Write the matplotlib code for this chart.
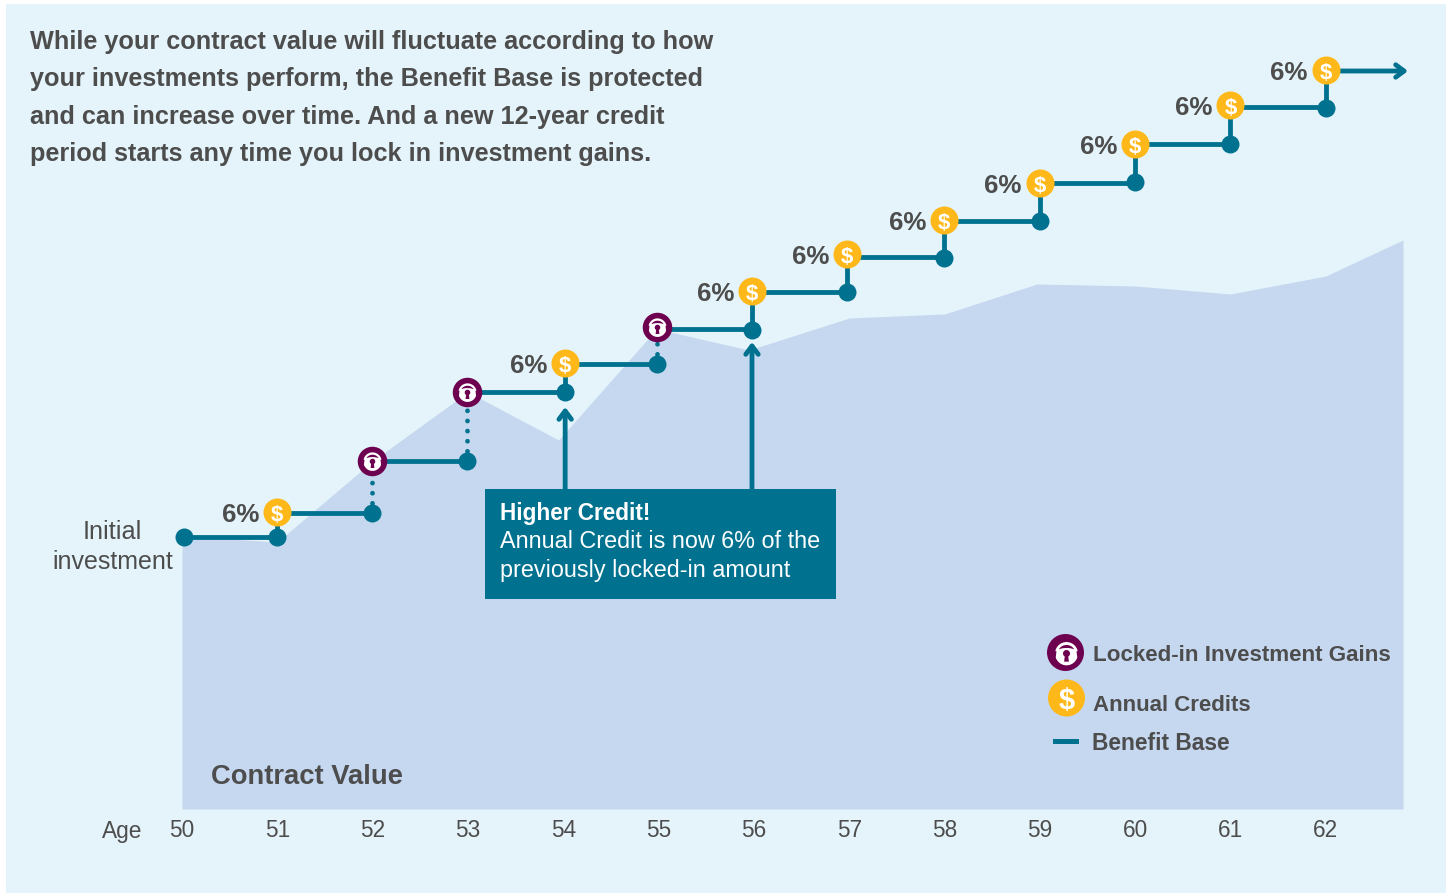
import numpy as np
import matplotlib
matplotlib.use("Agg")
import matplotlib.pyplot as plt
from matplotlib.patches import Rectangle, Circle
from matplotlib.path import Path
from matplotlib.transforms import Affine2D

W, H = 1449, 895
plt.rcParams['font.family'] = ['Liberation Sans', 'DejaVu Sans']

# ---- data (value units are arbitrary, 0 = chart floor)
tick_ages = list(range(50, 63))
contract_age = [50.0, 51.0, 52.0, 53.0, 53.95, 54.98, 55.95, 57.0, 58.0, 58.97, 60.0, 61.0, 62.0, 62.81]
contract_val = [273, 267, 348, 417, 369, 480, 459, 491, 495, 525, 523, 515, 533, 569]

dot_age = [50.02, 51.0, 51.995, 52.985, 54.02, 54.985, 55.98, 56.98, 57.995, 59.0, 60.0, 61.0, 62.0]
dot_val = [272, 272, 296, 348, 417, 445, 479, 517, 551, 588, 627, 665, 701]
credit_age = [51.0, 54.02, 55.98, 56.98, 57.995, 59.0, 60.0, 61.0, 62.0]
credit_val = [297, 446, 518, 555, 589, 626, 665, 704, 739]
lock_age = [51.995, 52.985, 54.985]
lock_val = [348, 417, 482]
run_val = [272, 296, 348, 417, 445, 480, 517, 552, 588, 626, 665, 702]
pct_label = "6%"

title_lines = ["While your contract value will fluctuate according to how",
               "your investments perform, the Benefit Base is protected",
               "and can increase over time. And a new 12-year credit",
               "period starts any time you lock in investment gains."]

TEAL = '#00718F'; PURPLE = '#6E0050'; GOLD = '#FFB819'; TXT = '#4D4D4D'
PANEL = '#E4F4FA'; AREA = '#C6D8F0'


def lock_path():
    """White padlock glyph for a purple disc of radius 1, with a keyhole."""
    t = np.linspace(np.radians(12), np.radians(168), 24)
    arch = np.c_[np.r_[0.62*np.cos(t), 0.46*np.cos(t[::-1])],
                 np.r_[0.62*np.sin(t), 0.42*np.sin(t[::-1])+0.04]]
    b = np.linspace(np.radians(200), np.radians(340), 24)
    tb = np.linspace(np.radians(15), np.radians(165), 16)
    body = np.r_[np.c_[0.56*np.cos(tb), 0.24*np.sin(tb)+0.06], np.c_[0.62*np.cos(b), 0.64*np.sin(b)]]
    a = np.linspace(np.radians(-60), np.radians(240), 18)
    key = np.r_[np.c_[0.19*np.cos(a), 0.19*np.sin(a)+0.0],
                [[-0.13, -0.44], [0.13, -0.44]]]
    # keyhole must wind opposite to the body
    key = key[::-1]
    verts, codes = [], []
    for poly in (arch, body, key):
        verts += list(poly) + [poly[0]]
        codes += [Path.MOVETO] + [Path.LINETO]*(len(poly)-1) + [Path.CLOSEPOLY]
    return Path(np.array(verts), codes)


LOCK = lock_path()
LOCK_MAX = np.abs(LOCK.vertices).max()
PT = 72 / 100  # points per pixel at dpi=100

fig = plt.figure(figsize=(W/100, H/100), dpi=100, facecolor='white')
px = Affine2D().scale(1, -1).translate(0, H)  # reference pixel coordinates
fig.add_artist(Rectangle((6, 5), 1440, 889, transform=px, fc=PANEL, ec='none', zorder=-5))

ax = fig.add_axes([182/W, 1-810/H, (1403-182)/W, (810-6)/H])
ax.patch.set_visible(False)
ax.set_xlim(50, 62.81)
ax.set_ylim(0, 804)
for s in ax.spines.values():
    s.set_visible(False)
ax.set_yticks([])
ax.set_xticks(tick_ages)
ax.set_xticklabels([str(a) for a in tick_ages], color=TXT, fontsize=16.3)
ax.tick_params(axis='x', length=0, pad=6.8)

ax.fill_between(contract_age, contract_val, 0, color=AREA, lw=0, zorder=1)

LW = 4.8*PT
ARROW = dict(arrowstyle='->,head_length=0.6,head_width=0.45', color=TEAL, lw=LW, shrinkA=0, shrinkB=0)
# horizontal runs of the benefit base
for a0, a1, v0 in zip(dot_age[:-1], dot_age[1:], run_val):
    ax.plot([a0, a1], [v0, v0], color=TEAL, lw=LW, zorder=2, solid_capstyle='butt')
# vertical credit stems
for a, v in zip(credit_age, credit_val):
    d = dot_val[dot_age.index(a)]
    ax.plot([a, a], [d, v], color=TEAL, lw=LW, zorder=2, solid_capstyle='butt')
# dotted lock-in jumps
for a, v in zip(lock_age, lock_val):
    d = dot_val[dot_age.index(a)]
    ax.plot([a, a], [d, v], color=TEAL, lw=LW, zorder=2,
            linestyle=(0, (0.01, 2.1)), dash_capstyle='round')

ax.annotate('', xy=(1408, 72), xycoords=px, xytext=(62, credit_val[-1]-1), textcoords='data',
            arrowprops=ARROW, zorder=2)

ax.plot(dot_age, dot_val, 'o', ms=18*PT, mfc=TEAL, mec='none', zorder=3, clip_on=False)
ax.plot(credit_age, credit_val, 'o', ms=28*PT, mfc=GOLD, mec='none', zorder=4, clip_on=False)
ax.plot(lock_age, lock_val, 'o', ms=29.5*PT, mfc=PURPLE, mec='none', zorder=4, clip_on=False)
ax.plot(lock_age, lock_val, linestyle='none', marker=LOCK, ms=2*14.75*LOCK_MAX*PT, mfc='white',
        mec='none', zorder=5, clip_on=False)

for a, v in zip(credit_age, credit_val):
    ax.text(a, v, '$', color='white', fontsize=16, fontweight='bold', ha='center',
            va='center_baseline', zorder=6, clip_on=False)
    ax.annotate(pct_label, (a, v), xytext=(-18*PT, 0), textcoords='offset points',
                color=TXT, fontsize=18.6, fontweight='bold', ha='right', va='center_baseline', zorder=6)

# callout arrows
for a, top in ((54.02, 408), (55.98, 343)):
    ax.annotate('', xy=(a, 810-top), xycoords='data', xytext=(a, 810-490), textcoords='data',
                arrowprops=ARROW, zorder=3)


def T(x, y, s, **kw):
    kw.setdefault('color', TXT)
    kw.setdefault('va', 'center_baseline')
    fig.text(x, y, s, transform=px, zorder=10, **kw)


for y, line in zip((40, 77, 115, 152), title_lines):
    T(30, y, line, fontsize=18.17, fontweight='bold')

fig.add_artist(Rectangle((485, 490), 351, 109.5, transform=px, fc=TEAL, ec='none', zorder=9))
T(499.5, 511, "Higher Credit!", color='white', fontsize=16.3, fontweight='bold')
T(499.5, 539.5, "Annual Credit is now 6% of the", color='white', fontsize=16.85)
T(499.5, 568.5, "previously locked-in amount", color='white', fontsize=16.8)

T(112.5, 530, "Initial", fontsize=18.2, ha='center')
T(112.5, 560, "investment", fontsize=18, ha='center')
T(211, 774, "Contract Value", fontsize=19.7, fontweight='bold')
T(122, 829.5, "Age", fontsize=16.3, ha='center')

# legend
fig.add_artist(Circle((1065.5, 653.5), 18.5, transform=px, fc=PURPLE, ec='none', zorder=9))
fig.add_artist(plt.Line2D([1065.5], [653.5], transform=px, linestyle='none', marker=LOCK,
                          ms=2*18.5*LOCK_MAX*PT, mfc='white', mec='none', zorder=10))
fig.add_artist(Circle((1066.5, 699), 18.5, transform=px, fc=GOLD, ec='none', zorder=9))
T(1066.5, 698, "$", color='white', fontsize=21, fontweight='bold', ha='center')
fig.add_artist(Rectangle((1053, 740), 26, 5, transform=px, fc=TEAL, ec='none', zorder=9))
T(1093, 653, "Locked-in Investment Gains", fontsize=16.1, fontweight='bold')
T(1093, 703, "Annual Credits", fontsize=16.0, fontweight='bold')
T(1092, 741, "Benefit Base", fontsize=16.4, fontweight='bold')

fig.savefig('out.png', dpi=100, facecolor='white')
